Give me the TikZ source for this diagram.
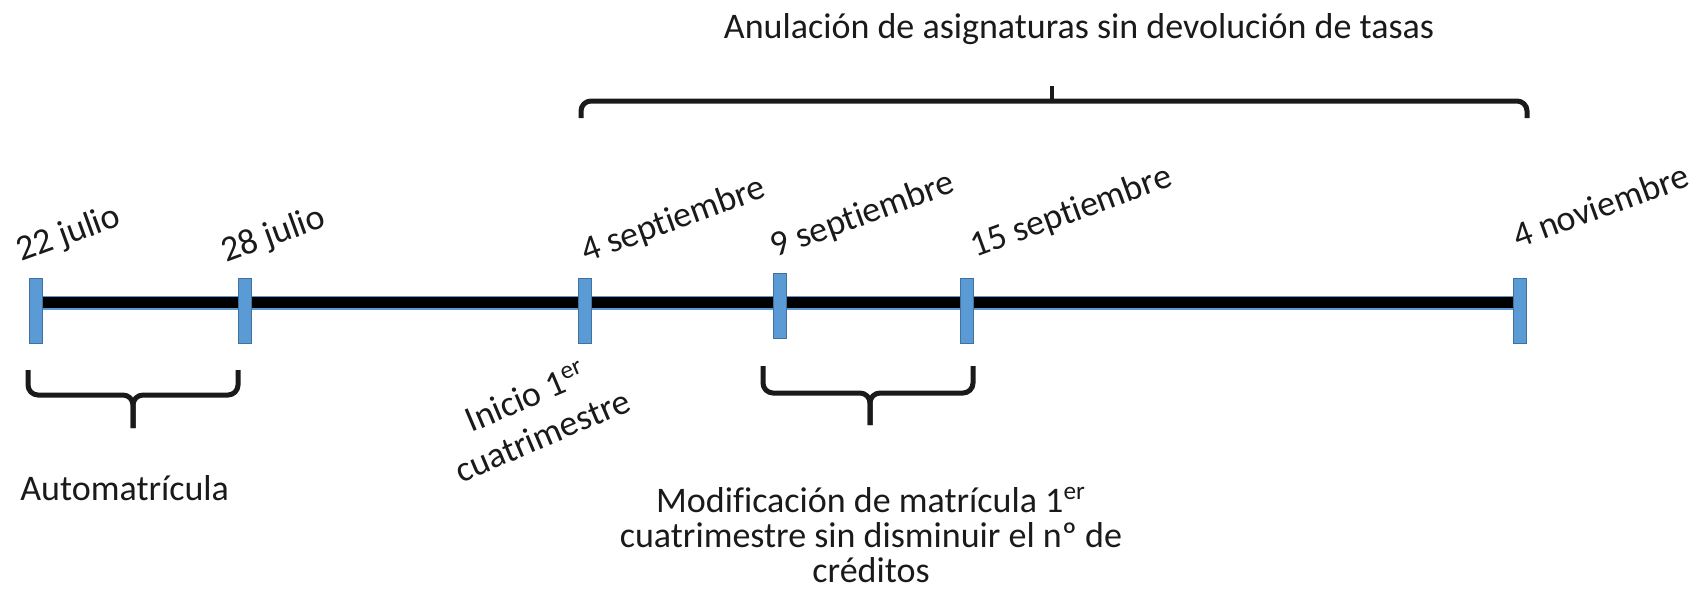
\documentclass[tikz,border=0pt]{standalone}
\usepackage{fontspec}
\setmainfont{Carlito}[Ligatures=NoCommon]
\definecolor{tickblue}{HTML}{5B9BD5}
\definecolor{tickedge}{HTML}{41719C}
\definecolor{txt}{HTML}{1A1A1A}
\begin{document}
\begin{tikzpicture}[x=0.5pt,y=-0.5pt,
  tickbox/.style={fill=tickblue, draw=tickedge, line width=0.3pt, minimum width=6.5pt, minimum height=32.5pt, inner sep=0pt},
  lbl/.style={text=txt, font=\fontsize{18}{21}\selectfont, inner sep=0pt},
  datelbl/.style={lbl, anchor=base west, rotate=20},
  brc/.style={line width=2.5pt, rounded corners=5pt, draw=txt},
  brctip/.style={line width=1.6pt, draw=txt}]
\useasboundingbox (0,0) rectangle (1696,589);
% timeline bar
\coordinate (b1) at (36,302.5);
\coordinate (b6) at (1520,302.5);
\draw[tickblue, line width=7pt] (b1) -- (b6);
\draw[black, line width=5.6pt] (b1) -- (b6);
% ticks
\node[tickbox] (t1) at (36,310.5) {};
\node[tickbox] (t2) at (245,311) {};
\node[tickbox] (t3) at (585,310.5) {};
\node[tickbox] (t4) at (780,306) {};
\node[tickbox] (t5) at (967,310.5) {};
\node[tickbox] (t6) at (1520,310.5) {};
% date labels
\node[datelbl] (d1) at (21,262) {22 julio};
\node[datelbl] (d2) at (226,263) {28 julio};
\node[datelbl] (d3) at (586,263) {4 septiembre};
\node[datelbl] (d4) at (775,258) {9 septiembre};
\node[datelbl] (d5) at (975,258) {15 septiembre};
\node[datelbl] (d6) at (1518,249) {4 noviembre};
% top brace
\coordinate (tl) at (581,118);
\coordinate (tr) at (1527,118);
\coordinate (tm) at (1052,101);
\coordinate (tp) at (1052,86);
\draw[brc] (tl) -- (tl|-tm) -- (tm);
\draw[brc] (tr) -- (tr|-tm) -- (tm);
\draw[brctip] (tm) -- (tp);
\node[lbl, anchor=base] (title) at (1079,39) {Anulación de asignaturas sin devolución de tasas};
% brace Automatricula
\coordinate (al) at (28,370);
\coordinate (ar) at (238,370);
\coordinate (am) at (133,395);
\coordinate (ap) at (133,428);
\draw[brc] (al) -- (al|-am) -- (am) -- (ap);
\draw[brc] (ar) -- (ar|-am) -- (am) -- (ap);
\node[lbl, anchor=base west] (auto) at (20,500) {Automatrícula};
% Inicio
\node[lbl, align=center, rotate=23] (ini) at (534,416) {Inicio 1\textsuperscript{er}\\cuatrimestre};
% brace Modificacion
\coordinate (ml) at (763,366);
\coordinate (mr) at (973,366);
\coordinate (mm) at (870,393);
\coordinate (mp) at (870,425);
\draw[brc] (ml) -- (ml|-mm) -- (mm) -- (mp);
\draw[brc] (mr) -- (mr|-mm) -- (mm) -- (mp);
\node[lbl, align=center, anchor=north, font=\fontsize{18}{17.5}\selectfont] (mod) at (871,487)
  {Modificación de matrícula 1\textsuperscript{er}\\cuatrimestre sin disminuir el nº de\\créditos};
\end{tikzpicture}
\end{document}
